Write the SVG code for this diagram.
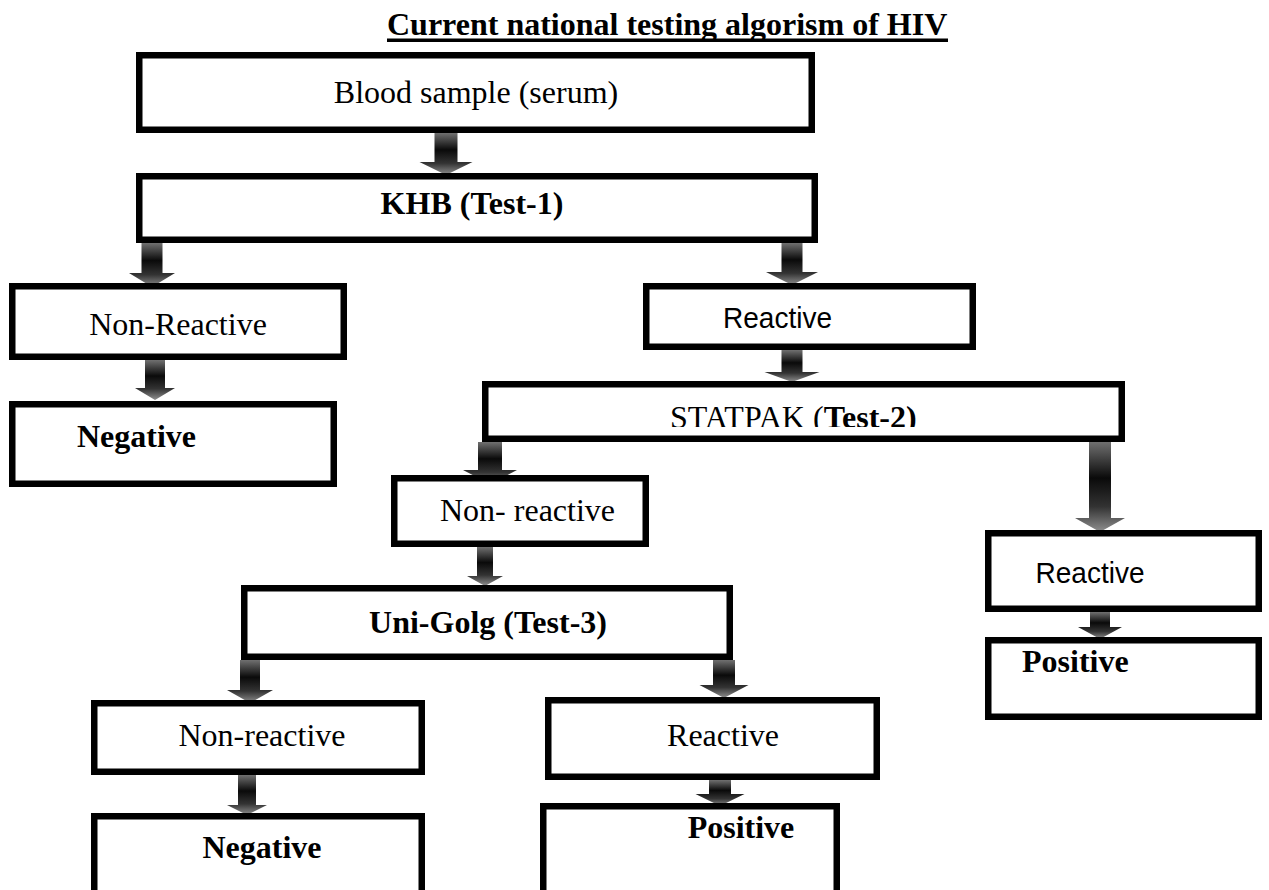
<svg xmlns="http://www.w3.org/2000/svg" width="1269" height="890" viewBox="0 0 1269 890">
<style>
.box{fill:#fff;stroke:#000;stroke-width:6.5}
.t{font-family:"Liberation Serif","Times New Roman",serif;font-size:32px;fill:#000}
.b{font-weight:bold}
.s{font-family:"Liberation Sans",Arial,sans-serif;font-size:29px;fill:#000}
.arr{fill:url(#ag)}
</style>
<defs>
<linearGradient id="ag" x1="0" y1="0" x2="0" y2="1">
<stop offset="0" stop-color="#707070"/>
<stop offset="0.4" stop-color="#0a0a0a"/>
<stop offset="0.72" stop-color="#333"/>
<stop offset="1" stop-color="#909090"/>
</linearGradient>
<clipPath id="statclip"><rect x="486" y="385" width="635" height="42"/></clipPath>
</defs>
<rect width="1269" height="890" fill="#fff"/>
<g id="title">
<text class="t b" x="387" y="35">Current national testing algorism of HIV</text>
<rect x="387" y="38.5" width="561" height="3.5" fill="#000"/>
</g>
<g id="connectors">
<path class="arr" d="M434.5,133H457.5V162H472.5L446,175L419.5,162H434.5Z"/>
<path class="arr" d="M141.5,243H162.5V273H175L152,287L129,273H141.5Z"/>
<path class="arr" d="M781.5,243H802.5V272H818L792,285L766,272H781.5Z"/>
<path class="arr" d="M145,360H165V388H175L155,400L135,388H145Z"/>
<path class="arr" d="M781.5,350H802.5V372H819.5L792,382L764.5,372H781.5Z"/>
<path class="arr" d="M478,442H502V470H517L490,484L463,470H478Z"/>
<path class="arr" d="M1089,442H1111V518H1125L1100,532L1075,518H1089Z"/>
<path class="arr" d="M477,547H493V576H503L485,586L467,576H477Z"/>
<path class="arr" d="M240,660H260V690H273L250,703L227,690H240Z"/>
<path class="arr" d="M713,660H735V685H748.5L724,698L699.5,685H713Z"/>
<path class="arr" d="M238,775H256V805H267L247,815L227,805H238Z"/>
<path class="arr" d="M709,780H731V794H744.5L720,806L695.5,794H709Z"/>
<path class="arr" d="M1090,612H1110V627H1122L1100,639L1078,627H1090Z"/>
</g>
<g id="n-blood">
<rect class="box" x="139.25" y="55.25" width="672.5" height="74.5"/>
<text class="t" x="476" y="103" text-anchor="middle">Blood sample (serum)</text>
</g>
<g id="n-khb">
<rect class="box" x="139.25" y="176.25" width="675.5" height="63.5"/>
<text class="t b" x="472" y="214" text-anchor="middle">KHB (Test-1)</text>
</g>
<g id="n-nonreactive1">
<rect class="box" x="12.25" y="286.25" width="331.5" height="70.5"/>
<text class="t" x="178" y="335" text-anchor="middle">Non-Reactive</text>
</g>
<g id="n-negative1">
<rect class="box" x="12.25" y="404.25" width="321.5" height="79.5"/>
<text class="t b" x="77" y="447">Negative</text>
</g>
<g id="n-reactive1">
<rect class="box" x="646.25" y="286.25" width="326.5" height="60.5"/>
<text class="s" x="723" y="328" textLength="109" lengthAdjust="spacingAndGlyphs">Reactive</text>
</g>
<g id="n-statpak">
<rect class="box" x="485.25" y="384.25" width="636.5" height="54.5"/>
<text class="t" x="670" y="428" clip-path="url(#statclip)">STATPAK (<tspan class="b">Test-2)</tspan></text>
</g>
<g id="n-nonreactive2">
<rect class="box" x="394.25" y="478.25" width="251.5" height="65.5"/>
<text class="t" x="440" y="521">Non- reactive</text>
</g>
<g id="n-reactive2">
<rect class="box" x="988.25" y="533.25" width="270.5" height="75.5"/>
<text class="s" x="1090" y="583" text-anchor="middle" textLength="109" lengthAdjust="spacingAndGlyphs">Reactive</text>
</g>
<g id="n-unigolg">
<rect class="box" x="244.25" y="588.25" width="485.5" height="68.5"/>
<text class="t b" x="488" y="633" text-anchor="middle">Uni-Golg (Test-3)</text>
</g>
<g id="n-positive1">
<rect class="box" x="988.25" y="640.25" width="270.5" height="76.5"/>
<text class="t b" x="1022" y="672">Positive</text>
</g>
<g id="n-nonreactive3">
<rect class="box" x="94.25" y="703.25" width="327.5" height="68.5"/>
<text class="t" x="262" y="746" text-anchor="middle">Non-reactive</text>
</g>
<g id="n-reactive3">
<rect class="box" x="548.25" y="700.25" width="328.5" height="76.5"/>
<text class="t" x="723" y="746" text-anchor="middle">Reactive</text>
</g>
<g id="n-negative2">
<rect class="box" x="94.25" y="816.25" width="327.5" height="90"/>
<text class="t b" x="262" y="858" text-anchor="middle">Negative</text>
</g>
<g id="n-positive2">
<rect class="box" x="543.25" y="806.25" width="293.5" height="95"/>
<text class="t b" x="741" y="838" text-anchor="middle">Positive</text>
</g>
</svg>
